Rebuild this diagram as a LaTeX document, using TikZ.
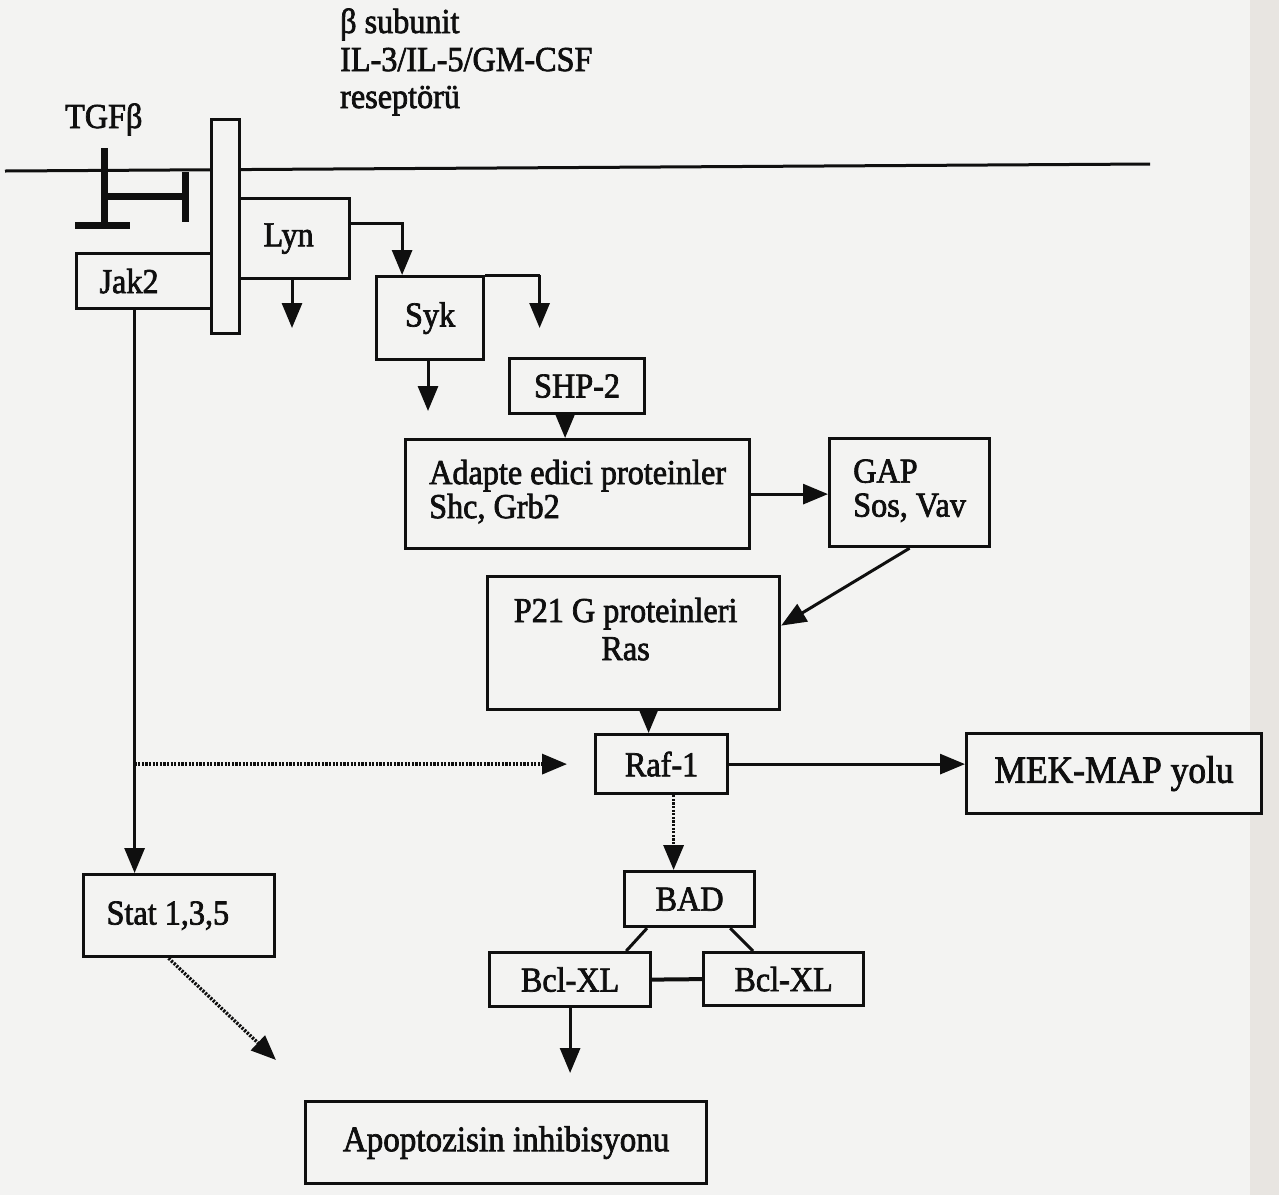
\documentclass[tikz,border=0pt]{standalone}
\usepackage{fontspec}
\setmainfont{Liberation Serif}[FakeStretch=0.92, FakeBold=2]
\usetikzlibrary{arrows.meta}
\newcommand{\fsz}[2]{\fontsize{#1}{#2}\selectfont}
\definecolor{bgc}{RGB}{243,243,242}
\definecolor{stripc}{RGB}{232,229,225}
\definecolor{ink}{RGB}{15,15,15}
\begin{document}
\begin{tikzpicture}[x=1pt,y=-1pt,
  box/.style={draw=ink, line width=3.2pt, anchor=north west, inner sep=0pt,
    text=ink, font=\fsz{35}{35}, fill=bgc},
  txt/.style={text=ink, inner sep=0pt, font=\fsz{35}{35}},
  con/.style={draw=ink, line width=3pt},
  arr/.style={con, -{Triangle[length=25pt,width=20pt]}},
  darr/.style={con, line width=3.4pt, dash pattern=on 2.2pt off 1.4pt, -{Triangle[length=25pt,width=20pt]}},
  inh/.style={draw=ink, line width=7pt, line cap=butt}
]
% page
\fill[bgc] (0,0) rectangle (1279,1195);
\fill[stripc] (1250,0) rectangle (1279,1195);
\useasboundingbox (0,0) rectangle (1279,1195);

% membrane
\coordinate (memL) at (5,171);
\coordinate (memR) at (1150,164);
\draw[con] (memL) -- (memR);

% labels
\node[txt, anchor=base west] (tgf) at (65,128) {TGFβ};
\node[txt, anchor=base west, font=\fsz{35}{36}] (rl1) at (340,33) {β subunit};
\node[txt, anchor=base west, font=\fsz{35}{36}] (rl2) at (340,71) {IL-3/IL-5/GM-CSF};
\node[txt, anchor=base west, font=\fsz{35}{36}] (rl3) at (340,108) {reseptörü};

% TGF-beta inhibition symbol
\draw[inh] (104,148) -- (104,225);
\draw[inh] (75,225) -- (130,225);
\draw[inh] (104,196) -- (185,196);
\draw[inh] (185,172) -- (185,222);

% receptor bar
\node[box, minimum width=28pt, minimum height=214pt] (rec) at (210,118) {};

% boxes
\node[box, minimum width=110pt, minimum height=80pt] (lyn) at (238,197) {\makebox[62pt][l]{Lyn}};
\node[box, minimum width=135pt, minimum height=55pt] (jak2) at (75,252) {\makebox[89pt][l]{Jak2}};
\node[box, minimum width=107pt, minimum height=83pt] (syk) at (375,275) {Syk};
\node[box, minimum width=135pt, minimum height=55pt] (shp) at (508,357) {SHP-2};
\node[box, minimum width=344pt, minimum height=109pt] (adapte) at (404,438)
  {\begin{tabular}{@{}l@{}}Adapte edici proteinler\\[-1pt]Shc, Grb2\end{tabular}};
\node[box, minimum width=160pt, minimum height=108pt] (gap) at (828,437)
  {\begin{tabular}{@{}l@{}}GAP\\[-1pt]Sos, Vav\end{tabular}};
\node[box, minimum width=292pt, minimum height=133pt,
  label={[txt, align=center, xshift=-8pt, yshift=14pt, font=\fsz{35}{38}]center:P21 G proteinleri\\Ras}] (p21) at (486,575) {};
\node[box, minimum width=132pt, minimum height=59pt] (raf) at (594,733) {Raf-1};
\node[box, minimum width=295pt, minimum height=80pt, font=\fsz{38.5}{40}] (mek) at (965,732) {MEK-MAP yolu};
\node[box, minimum width=191pt, minimum height=82pt] (stat) at (82,873) {\makebox[145pt][l]{Stat 1,3,5}};
\node[box, minimum width=130pt, minimum height=55pt] (bad) at (623,870) {BAD};
\node[box, minimum width=161pt, minimum height=54pt] (bclL) at (488,951) {Bcl-XL};
\node[box, minimum width=160pt, minimum height=53pt] (bclR) at (702,951) {Bcl-XL};
\node[box, minimum width=401pt, minimum height=82pt, font=\fsz{36}{38}] (apo) at (304,1100) {Apoptozisin inhibisyonu};

% free ends
\coordinate (lynend) at (292,328);
\coordinate (sykend) at (428,411);
\coordinate (statend) at (276,1060);

% connectors
\draw[arr] ([yshift=15pt]lyn.east) -| ([xshift=-28pt]syk.north);
\draw[con] (syk.north east) -- ([xshift=-37.5pt]shp.north |- syk.north east);
\draw[arr, shorten >=29pt] ([xshift=-37.5pt]shp.north |- syk.north east) -- ([xshift=-37.5pt]shp.north);
\draw[arr] (lyn.south -| lynend) -- (lynend);
\draw[arr] (syk.south -| sykend) -- (sykend);
\draw[arr] ([xshift=-12pt]shp.south) -- ([xshift=-12pt]shp.south |- adapte.north);
\draw[arr] (adapte.east) -- (gap.west |- adapte.east);
\draw[arr] (gap.south) -- ([yshift=17.5pt]p21.east);
\draw[arr] ([xshift=-13pt]raf.north |- p21.south) -- ([xshift=-13pt]raf.north);
\draw[arr] (raf.east) -- (raf.east -| mek.west);
\draw[arr] ([xshift=-9.5pt]jak2.south) -- ([xshift=-9.5pt]jak2.south |- stat.north);
\draw[darr, shorten >=27pt] ([xshift=-9.5pt]jak2.south |- raf.west) -- (raf.west);
\draw[darr] ([xshift=12pt]raf.south) -- ([xshift=12pt]raf.south |- bad.north);
\draw[darr] ([xshift=-10.5pt]stat.south) -- (statend);
\draw[con] ([xshift=24pt]bad.south west) -- ([xshift=-26pt]bclL.north east);
\draw[con] ([xshift=-26pt]bad.south east) -- ([xshift=51pt]bclR.north west);
\draw[con, line width=4pt] (bclL.east) -- (bclR.west);
\draw[arr, shorten >=27pt] (bclL.south) -- (bclL.south |- apo.north);
\end{tikzpicture}
\end{document}
